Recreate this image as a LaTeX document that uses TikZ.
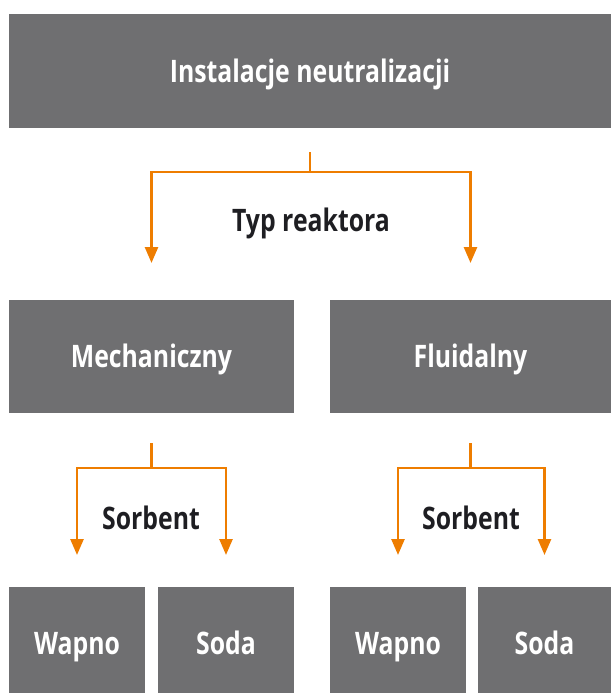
\documentclass[tikz,border=0pt]{standalone}
\usepackage{fontspec}
\setmainfont{Open Sans}[FakeStretch=0.8]
\usetikzlibrary{arrows.meta}

\definecolor{boxgray}{HTML}{6F6F71}
\definecolor{linkorange}{HTML}{EE7D00}
\definecolor{labelblack}{HTML}{1E1E22}

\tikzset{
  block/.style={fill=boxgray, text=white, inner sep=0pt, text height=22pt, text depth=0pt,
    font=\bfseries\fontsize{31}{34}\selectfont},
  link/.style={draw=linkorange, line width=2.6pt},
  linkarrow/.style={link, -{Triangle[width=13pt,length=16pt]}},
  tag/.style={text=labelblack, inner sep=0pt, text height=22pt, text depth=0pt,
    font=\bfseries\fontsize{31}{34}\selectfont}
}

\begin{document}
\begin{tikzpicture}[x=1pt,y=1pt]
        \useasboundingbox (0,0) rectangle (611,-693);
        % boxes
        \node [block, minimum width=602pt, minimum height=113pt] (top) at (310,-71) {Instalacje neutralizacji};
        \node [block, minimum width=285pt, minimum height=113pt] (mech) at (151.5,-356) {Mechaniczny};
        \node [block, minimum width=281pt, minimum height=113pt] (fluid) at (470.5,-356) {Fluidalny};
        \node [block, minimum width=136pt, minimum height=113pt] (mwap) at (77,-643) {Wapno};
        \node [block, minimum width=136pt, minimum height=113pt] (msod) at (226,-643) {Soda};
        \node [block, minimum width=136pt, minimum height=113pt] (fwap) at (398,-643) {Wapno};
        \node [block, minimum width=133pt, minimum height=113pt] (fsod) at (544.5,-643) {Soda};
        % reactor type
        \draw [link] (top.south |- 0,-152) -- ++(0,-20) coordinate (j1);
        \draw [linkarrow] (j1) -| (mech.north |- 0,-263);
        \draw [linkarrow] (j1) -| (fluid.north |- 0,-263);
        \node [tag] (typ) at (311,-220) {Typ reaktora};
        % sorbent, left
        \draw [link] (mech.south |- 0,-443) -- ++(0,-25) coordinate (j2);
        \draw [linkarrow] (j2) -| (mwap.north |- 0,-555);
        \draw [linkarrow] (j2) -| (msod.north |- 0,-555);
        \node [tag] (sorb1) at (151,-518) {Sorbent};
        % sorbent, right
        \draw [link] (fluid.south |- 0,-443) -- ++(0,-25) coordinate (j3);
        \draw [linkarrow] (j3) -| (fwap.north |- 0,-555);
        \draw [linkarrow] (j3) -| (fsod.north |- 0,-555);
        \node [tag] (sorb2) at (471,-518) {Sorbent};
\end{tikzpicture}
\end{document}
